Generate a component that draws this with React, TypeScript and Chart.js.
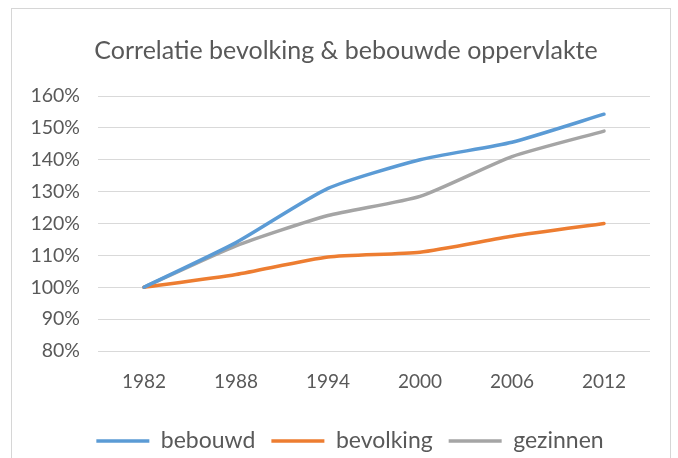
import React, { useEffect, useRef } from "react";
import { Chart, registerables } from "chart.js";

Chart.register(...registerables);

const TITLE = "Correlatie bevolking & bebouwde oppervlakte";
const years = ["1982", "1988", "1994", "2000", "2006", "2012"];
const bebouwd = [100, 114, 131, 140, 145.5, 154.3];
const bevolking = [100, 104, 109.5, 111, 116, 120];
const gezinnen = [100, 113, 122.5, 128.5, 141, 149];
const seriesNames = ["bebouwd", "bevolking", "gezinnen"];
const seriesColors = ["#5B9BD5", "#ED7D31", "#A5A5A5"];

const FONT = "Lato, 'Open Sans', sans-serif";
const TEXT = "#595959";

const shiftBoxes = {
  id: "shiftBoxes",
  afterLayout(chart: any) {
    if (chart.legend) {
      chart.legend.left += 25;
      chart.legend.right += 25;
    }
    if (chart.titleBlock) {
      chart.titleBlock.left += 21;
      chart.titleBlock.right += 21;
    }
  },
};

export default function App() {
  const ref = useRef<HTMLCanvasElement | null>(null);

  useEffect(() => {
    if (!ref.current) return;
    const values = [bebouwd, bevolking, gezinnen];
    const chart = new Chart(ref.current, {
      type: "line",
      plugins: [shiftBoxes],
      data: {
        labels: years,
        datasets: values.map((v, i) => ({
          label: seriesNames[i],
          data: v,
          borderColor: seriesColors[i],
          backgroundColor: seriesColors[i],
          borderWidth: 3.5,
          pointRadius: 0,
          pointHoverRadius: 0,
          tension: 0.2,
          pointStyle: "line",
          borderCapStyle: "round",
          borderJoinStyle: "round",
        })),
      },
      options: {
        responsive: false,
        animation: false,
        layout: { padding: { top: 0, right: 28, bottom: -4.5, left: 0 } },
        plugins: {
          title: {
            display: true,
            text: TITLE,
            color: TEXT,
            font: { family: FONT, size: 25, weight: "normal" },
            padding: { top: 36, bottom: 30 },
          },
          legend: {
            display: true,
            position: "bottom",
            labels: {
              color: TEXT,
              font: { family: FONT, size: 23 },
              usePointStyle: true,
              pointStyleWidth: 53,
              padding: 16,
            },
          },
          tooltip: { enabled: false },
        },
        scales: {
          x: {
            offset: true,
            grid: { display: false, drawTicks: false },
            border: { display: false },
            ticks: {
              color: TEXT,
              font: { family: FONT, size: 19 },
              padding: 19,
              maxRotation: 0,
            },
            afterFit: (s: any) => {
              s.height = 62.5;
            },
          },
          y: {
            min: 80,
            max: 160,
            grid: { color: "#d9d9d9", lineWidth: 1, drawTicks: false },
            border: { display: false },
            ticks: {
              stepSize: 10,
              color: TEXT,
              font: { family: FONT, size: 19.5 },
              padding: 18,
              callback: (v: any) => v + "%",
            },
            afterFit: (s: any) => {
              s.width = 98;
            },
          },
        },
      },
    });
    return () => chart.destroy();
  }, []);

  return (
    <div
      style={{
        position: "fixed",
        left: 0,
        top: 0,
        width: 678,
        height: 458,
        background: "#ffffff",
        overflow: "hidden",
      }}
    >
      <div
        style={{
          position: "absolute",
          left: 11,
          top: 8,
          width: 660,
          height: 520,
          border: "1.5px solid #d6d6d6",
          boxSizing: "border-box",
        }}
      />
      <canvas
        ref={ref}
        width={678}
        height={458}
        style={{ position: "absolute", left: 0, top: 0 }}
      />
    </div>
  );
}
